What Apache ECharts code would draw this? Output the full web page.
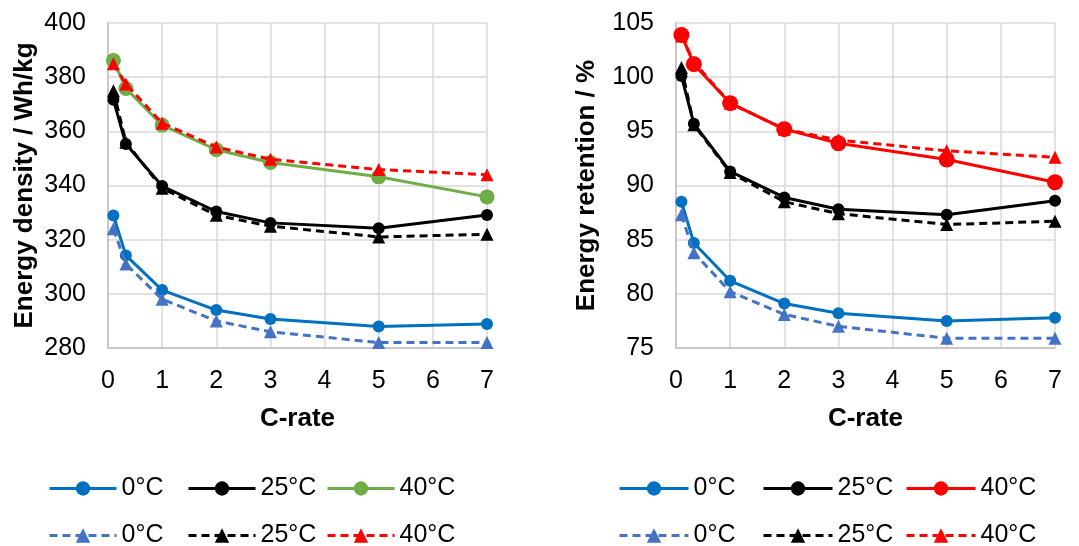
<!DOCTYPE html>
<html>
<head>
<meta charset="utf-8">
<script src="https://cdn.jsdelivr.net/npm/echarts@6/dist/echarts.min.js"></script>
<style>
  html, body { margin: 0; padding: 0; background: #fff; }
  #chart { width: 1079px; height: 546px; }
</style>
</head>
<body>
<div id="chart"></div>
<script>
// C-rate positions shared by every series
var cRate = [0.1, 0.33, 1, 2, 3, 5, 7];

// left panel: energy density / Wh/kg
var densitySolid0 = [328.9, 314.2, 301.4, 294.0, 290.7, 287.9, 288.9];
var densitySolid25 = [371.7, 355.3, 339.8, 330.4, 326.2, 324.2, 329.1];
var densitySolid40 = [386.2, 375.8, 362.3, 353.2, 348.5, 343.2, 335.8];
var densityDash0 = [324.0, 311.0, 298.0, 290.0, 286.0, 282.0, 282.0];
var densityDash25 = [375.0, 356.0, 339.0, 329.0, 325.0, 321.0, 322.0];
var densityDash40 = [385.0, 377.5, 363.0, 354.2, 349.7, 345.9, 344.0];

// right panel: energy retention / %
var retentionSolid0 = [88.5, 84.7, 81.2, 79.1, 78.2, 77.5, 77.8];
var retentionSolid25 = [100.1, 95.7, 91.3, 88.9, 87.8, 87.3, 88.6];
var retentionSolid40 = [103.9, 101.2, 97.6, 95.2, 93.9, 92.4, 90.3];
var retentionDash0 = [87.3, 83.8, 80.2, 78.1, 77.0, 75.9, 75.9];
var retentionDash25 = [100.9, 95.6, 91.2, 88.5, 87.4, 86.4, 86.7];
var retentionDash40 = [103.8, 101.4, 97.6, 95.2, 94.2, 93.2, 92.6];

var tempLabels = ['0°C', '25°C', '40°C'];

var blue = '#0070C0', lightBlue = '#4472C4', green = '#70AD47', red = '#FF0000', black = '#000000';

function pairs (ys) {
  return cRate.map(function (x, i) { return [x, ys[i]] })
}

function solid (name, idx, ys, color, size) {
  return {
    name: name, type: 'line', xAxisIndex: idx, yAxisIndex: idx,
    data: pairs(ys), symbol: 'circle', symbolSize: size,
    lineStyle: { color: color, width: 3 },
    itemStyle: { color: color },
    z: 3
  }
}

function dashed (name, idx, ys, color) {
  return {
    name: name, type: 'line', xAxisIndex: idx, yAxisIndex: idx,
    data: pairs(ys), symbol: 'triangle', symbolSize: 13,
    lineStyle: { color: color, width: 3, type: [8, 5] },
    itemStyle: { color: color },
    z: 4
  }
}

var font = 'Liberation Sans, Arial, sans-serif';

function xAxisCfg (idx) {
  return {
    type: 'value', gridIndex: idx, min: 0, max: 7, interval: 1,
    name: 'C-rate', nameLocation: 'middle', nameGap: 58,
    nameTextStyle: { fontSize: 26, fontWeight: 'bold', color: '#000', fontFamily: font },
    axisLine: { lineStyle: { color: '#BFBFBF', width: 1.5 } },
    axisTick: { show: false },
    axisLabel: { fontSize: 25, color: '#000', margin: 21, fontFamily: font },
    splitLine: { show: true, lineStyle: { color: '#D9D9D9', width: 1.5 } }
  }
}

function yAxisCfg (idx, name, min, max, step, gap) {
  return {
    type: 'value', gridIndex: idx, min: min, max: max, interval: step,
    name: name, nameLocation: 'middle', nameGap: gap,
    nameTextStyle: { fontSize: 26, fontWeight: 'bold', color: '#000', fontFamily: font },
    axisLine: { show: true, lineStyle: { color: '#BFBFBF', width: 1.5 } },
    axisTick: { show: false },
    axisLabel: { fontSize: 25, color: '#000', margin: 22, fontFamily: font },
    splitLine: { show: true, lineStyle: { color: '#D9D9D9', width: 1.5 } }
  }
}

// one legend per entry so the entries sit in fixed columns like the original
function legendCfg (left, top, name, iconW) {
  return {
    left: left, top: top, padding: 0,
    data: [name], selectedMode: false,
    itemWidth: iconW, itemHeight: 18,
    lineStyle: { width: 3 },
    formatter: function (n) { return n.split('#')[0] },
    textStyle: { fontSize: 25, color: '#000', fontFamily: font }
  }
}

var L = ['L0s', 'L25s', 'L40s', 'L0d', 'L25d', 'L40d'].map(function (k, i) { return tempLabels[i % 3] + '#' + k });
var R = ['R0s', 'R25s', 'R40s', 'R0d', 'R25d', 'R40d'].map(function (k, i) { return tempLabels[i % 3] + '#' + k });

var leftCols = [48, 187, 326];
var rightCols = [618, 762, 905];
var rowTops = [476, 523];

var legends = [];
for (var i = 0; i < 6; i++) {
  var row = Math.floor(i / 3), col = i % 3;
  legends.push(legendCfg(leftCols[col], rowTops[row], L[i], 67));
  legends.push(legendCfg(rightCols[col], rowTops[row], R[i], 69));
}

var option = {
  animation: false,
  backgroundColor: '#fff',
  textStyle: { fontFamily: font },
  grid: [
    { left: 108, top: 23, width: 379, height: 325 },
    { left: 676, top: 23, width: 379, height: 325 }
  ],
  xAxis: [xAxisCfg(0), xAxisCfg(1)],
  yAxis: [
    yAxisCfg(0, 'Energy density / Wh/kg', 280, 400, 20, 70),
    yAxisCfg(1, 'Energy retention / %', 75, 105, 5, 76)
  ],
  legend: legends,
  series: [
    solid(L[0], 0, densitySolid0, blue, 12),
    solid(L[1], 0, densitySolid25, black, 12),
    solid(L[2], 0, densitySolid40, green, 15),
    dashed(L[3], 0, densityDash0, lightBlue),
    dashed(L[4], 0, densityDash25, black),
    dashed(L[5], 0, densityDash40, red),
    solid(R[0], 1, retentionSolid0, blue, 12),
    solid(R[1], 1, retentionSolid25, black, 12),
    solid(R[2], 1, retentionSolid40, red, 16),
    dashed(R[3], 1, retentionDash0, lightBlue),
    dashed(R[4], 1, retentionDash25, black),
    dashed(R[5], 1, retentionDash40, red)
  ]
};

var myChart = echarts.init(document.getElementById('chart'));
myChart.setOption(option);
</script>
</body>
</html>
